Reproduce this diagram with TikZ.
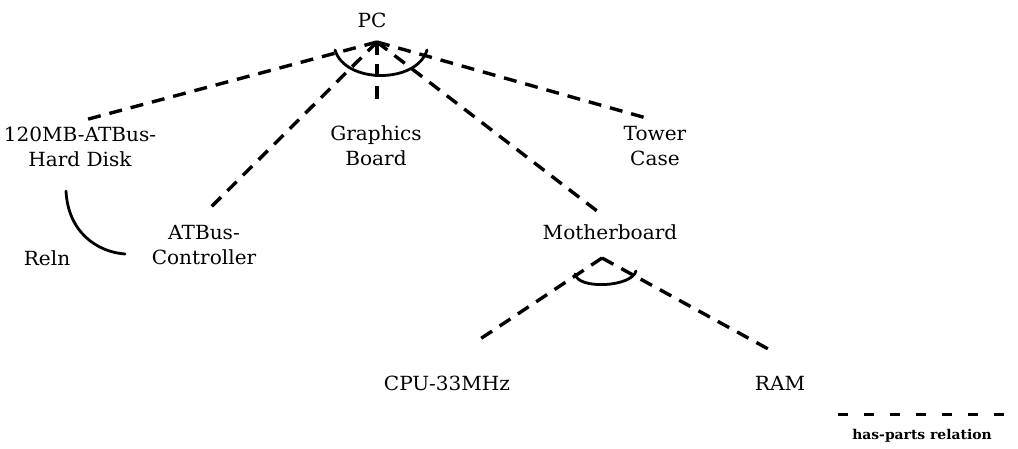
\documentclass[tikz,border=0pt]{standalone}
\usepackage{fontspec}
\setmainfont{DejaVu Serif}[FakeStretch=1.03]
\begin{document}
\begin{tikzpicture}[x=1pt,y=-1pt,
  lbl/.style={font=\fontsize{19.5}{25}\selectfont, align=center, inner sep=1pt},
  haspart/.style={line width=3.4pt, dash pattern=on 13pt off 9pt},
  relarc/.style={line width=2.8pt, line cap=round}]
\useasboundingbox (0,0) rectangle (1018,448);
% nodes
\node[lbl] (pc) at (372,20) {PC};
\node[lbl] (hd) at (80,147) {120MB-ATBus-\\Hard Disk};
\node[lbl] (gb) at (376,146) {Graphics\\Board};
\node[lbl] (tc) at (655,146) {Tower\\Case};
\node[lbl] (ac) at (204,245) {ATBus-\\Controller};
\node[lbl] (reln) at (47,258) {Reln};
\node[lbl] (mb) at (610,232) {Motherboard};
\node[lbl] (cpu) at (447,383) {CPU-33MHz};
\node[lbl] (ram) at (780,383) {RAM};
\node[font=\fontsize{13.5}{15}\selectfont\bfseries, inner sep=1pt] (leg) at (922,436) {has-parts relation};
% junction points
\coordinate (pcj) at (377,42);
\coordinate (mbj) at (602,258);
% has-parts connectors
\draw[haspart] (pcj) -- ([shift={(5,-6)}]hd.north);
\draw[haspart] (pcj) -- ([shift={(2,-12)}]ac.north);
\draw[haspart] (pcj) -- ([shift={(1,-22)}]gb.north);
\draw[haspart] (pcj) -- ([shift={(-10,-10)}]mb.north);
\draw[haspart] (pcj) -- ([shift={(-5,-6)}]tc.north);
\draw[haspart] (mbj) -- ([shift={(31,-34)}]cpu.north);
\draw[haspart] (mbj) -- ([shift={(-5,-22)}]ram.north);
% arcs
\draw[relarc] (335,50) .. controls (345,84) and (417,84) .. (427,50);
\draw[relarc] (575,274) .. controls (578,290) and (632,287) .. (636,271);
\draw[relarc] (66,191) .. controls (68,232) and (97,252) .. (125,254);
% legend line
\coordinate (l1) at (838,414);
\coordinate (l2) at (1008,414);
\draw[line width=3pt, dash pattern=on 10pt off 16pt] (l1) -- (l2);
\end{tikzpicture}
\end{document}
